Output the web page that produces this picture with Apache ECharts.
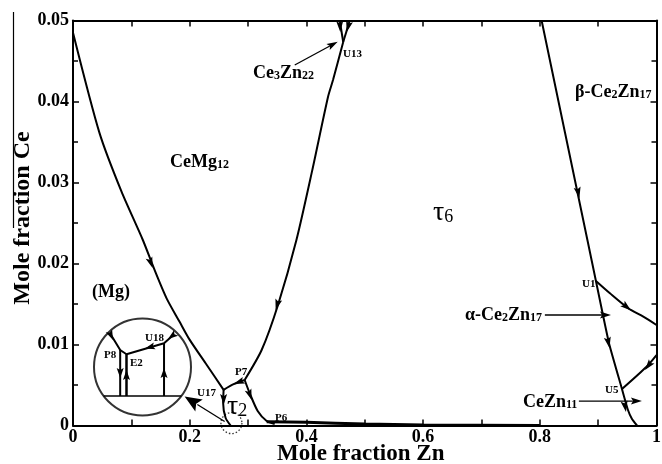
<!DOCTYPE html>
<html>
<head>
<meta charset="utf-8">
<script src="https://cdn.jsdelivr.net/npm/echarts@6/dist/echarts.min.js"></script>
<style>
  html, body { margin: 0; padding: 0; background: #fff; }
  #chart { width: 662px; height: 464px; }
</style>
</head>
<body>
<div id="chart"></div>
<script>
// Liquidus projection of the Mg-rich corner of Mg–Ce–Zn (mole fractions).
const xTicks = [0, 0.2, 0.4, 0.6, 0.8, 1];
const yTicks = [0, 0.01, 0.02, 0.03, 0.04, 0.05];

// Univariant valleys, points are [x(Zn), x(Ce)]
const valleyMgCeMg12 = [
  [0, 0.0485], [0.0455, 0.0361], [0.0830, 0.0289], [0.1197, 0.0229],
  [0.1398, 0.0192], [0.1604, 0.0157], [0.1827, 0.0128], [0.1998, 0.0106],
  [0.2290, 0.0075], [0.2581, 0.0044]
];
const valleyCeMg12Tau6 = [
  [0.2942, 0.00562], [0.3233, 0.00932], [0.3513, 0.01488], [0.3829, 0.0229],
  [0.4100, 0.0315], [0.4370, 0.04056], [0.4456, 0.04265], [0.4631, 0.04735]
];
const valleyU13Left = [[0.4631, 0.04735], [0.4571, 0.05]];
const valleyU13Right = [[0.4631, 0.04735], [0.4743, 0.05]];
const valleyBetaCe2Zn17 = [
  [0.8031, 0.05], [0.8816, 0.0229], [0.8962, 0.01784], [0.9185, 0.01019],
  [0.9408, 0.00451], [0.9511, 0.00191], [0.9580, 0.0008], [0.9666, 0]
];
const valleyU1Edge = [
  [0.8962, 0.01784], [0.9202, 0.01632], [0.9516, 0.01447], [0.9774, 0.01343], [1.0, 0.01241]
];
const valleyEdgeU5 = [[1.0, 0.0087], [0.9829, 0.00726], [0.9408, 0.00451]];
const valleyU17P7 = [[0.2581, 0.0044], [0.2753, 0.0051], [0.2942, 0.00562]];
const valleyU17Down = [[0.2581, 0.0044], [0.2573, 0.00278], [0.2616, 0.00093], [0.2702, 0]];
const valleyP7P6 = [
  [0.2942, 0.00562], [0.3027, 0.00401], [0.3165, 0.00179], [0.3319, 0.00056], [0.3456, 0.00019]
];
const valleyP6Zn = [
  [0.3319, 0.00045], [0.40, 0.0004], [0.50, 0.00018], [0.60, 0.00006], [0.80, 0]
];

// Direction arrows on the valleys: [tipX, tipY, tailX, tailY]
const valleyArrows = [
  [0.1364, 0.01944, 0.1197, 0.0229],
  [0.3473, 0.01426, 0.3829, 0.0229],
  [0.4580, 0.04858, 0.4571, 0.05],
  [0.4691, 0.04858, 0.4743, 0.05],
  [0.8679, 0.02809, 0.8031, 0.05],
  [0.9194, 0.00957, 0.8962, 0.01784],
  [0.9477, 0.00167, 0.9408, 0.00451],
  [0.9563, 0.0142, 0.9202, 0.01632],
  [0.9803, 0.00685, 1.0, 0.0087],
  [0.2753, 0.00512, 0.2942, 0.00562],
  [0.2581, 0.00253, 0.2581, 0.0044],
  [0.3062, 0.00315, 0.2942, 0.00562]
];

// Label leaders: [tipX, tipY, tailX, tailY]
const labelLeaders = [
  [0.4537, 0.04738, 0.3800, 0.0445],
  [0.9220, 0.01364, 0.8087, 0.01364],
  [0.9750, 0.00302, 0.8670, 0.00302]
];
const zoomLeader = [[0.1913, 0.00358, 0.2599, 0.00049]];
const zoomSpot = [[0.2715, 0.0003]];

// Magnified E2 corner (local 0–100 frame inside the circle)
const insetCircle = [[50, 50]];
const insetBase = [[9.9, 20.1], [90.1, 20.1]];
const insetTopLeft = [[16.5, 84.7], [27, 67.5], [33.5, 63.1], [72.2, 74.4], [81.8, 83.0]];
const insetP8 = [[27, 67.5], [27, 20.1]];
const insetE2 = [[33.5, 63.1], [33.5, 20.1]];
const insetU18 = [[72.2, 74.4], [72.2, 20.1]];
const insetArrows = [
  [19.6, 77.8, 16.5, 84.7],
  [27, 38.7, 27, 67.5],
  [33.5, 46.9, 33.5, 20.1],
  [72.2, 49.0, 72.2, 20.1],
  [52.6, 69.1, 72.2, 74.4],
  [76.3, 78.9, 81.8, 83.0]
];

const SERIF = "'Liberation Serif', 'Times New Roman', 'DejaVu Serif', serif";

function curve(data, opts) {
  return Object.assign({
    type: 'line', data: data, symbol: 'none', smooth: 0.25, silent: true,
    lineStyle: { color: '#000', width: 2 }, z: 3
  }, opts || {});
}

function heads(data, len, wid, axisIdx, withShaft, shaftWidth) {
  return {
    type: 'custom', data: data, silent: true,
    xAxisIndex: axisIdx, yAxisIndex: axisIdx, z: 5,
    encode: { x: [0, 2], y: [1, 3] },
    clip: false,
    renderItem: function (params, api) {
      const tip = api.coord([api.value(0), api.value(1)]);
      const back = api.coord([api.value(2), api.value(3)]);
      const a = Math.atan2(tip[1] - back[1], tip[0] - back[0]);
      const c = Math.cos(a), s = Math.sin(a);
      const bx = tip[0] - len * c, by = tip[1] - len * s;
      const children = [];
      if (withShaft) {
        children.push({
          type: 'line',
          shape: { x1: back[0], y1: back[1], x2: bx + 2 * c, y2: by + 2 * s },
          style: { stroke: '#000', lineWidth: shaftWidth }
        });
      }
      children.push({
        type: 'polygon',
        shape: { points: [tip, [bx - wid / 2 * s, by + wid / 2 * c], [tip[0] - len * 0.8 * c, tip[1] - len * 0.8 * s], [bx + wid / 2 * s, by - wid / 2 * c]] },
        style: { fill: '#000' }
      });
      return { type: 'group', children: children };
    }
  };
}

function label(x, y, rich, text, extra) {
  return Object.assign({
    type: 'text', x: x, y: y, z: 10,
    style: { text: text, rich: rich, fill: '#000', align: 'left', verticalAlign: 'middle',
             font: 'bold 16px ' + SERIF }
  }, extra || {});
}

const big = { a: { fontFamily: SERIF, fontWeight: 'bold', fontSize: 18, fill: '#000' },
              s: { fontFamily: SERIF, fontWeight: 'bold', fontSize: 12, fill: '#000', padding: [6, 0, 0, 0] } };
const small = { a: { fontFamily: SERIF, fontWeight: 'bold', fontSize: 11, fill: '#000' } };
const tau = { t: { fontFamily: SERIF, fontSize: 28, fill: '#000' },
              n: { fontFamily: SERIF, fontSize: 18, fill: '#000', padding: [8, 0, 0, 0] } };

const axisCommon = {
  type: 'value', min: xTicks[0], max: xTicks[xTicks.length - 1], interval: xTicks[1] - xTicks[0],
  splitLine: { show: false },
  axisLine: { show: true, onZero: false, lineStyle: { color: '#000', width: 2 } },
  axisTick: { show: true, inside: true, length: 6, lineStyle: { color: '#000', width: 1.5 } },
  minorTick: { show: true, splitNumber: 2, length: 6, lineStyle: { color: '#000', width: 1.5 } }
};
const yCommon = Object.assign({}, axisCommon, {
  min: yTicks[0], max: yTicks[yTicks.length - 1], interval: yTicks[1] - yTicks[0],
  minorTick: { show: true, splitNumber: 2, length: 5, lineStyle: { color: '#000', width: 1.5 } }
});

const chart = echarts.init(document.getElementById('chart'), null, { renderer: 'canvas' });
chart.setOption({
  backgroundColor: '#fff',
  animation: false,
  grid: [
    { left: 73, right: 5.5, top: 20.5, bottom: 38.5, containLabel: false, outerBoundsMode: 'none' },
    { left: 94, top: 318.5, width: 97, height: 97, containLabel: false, outerBoundsMode: 'none' }
  ],
  xAxis: [
    Object.assign({}, axisCommon, {
      gridIndex: 0, position: 'bottom',
      name: 'Mole fraction Zn', nameLocation: 'middle', nameGap: 17, nameMoveOverlap: false,
      nameTextStyle: { fontFamily: SERIF, fontWeight: 'bold', fontSize: 23, color: '#000', padding: [0, 8, 0, 0] },
      axisLabel: { fontFamily: SERIF, fontWeight: 'bold', fontSize: 18, color: '#000', margin: 3 }
    }),
    Object.assign({}, axisCommon, { gridIndex: 0, position: 'top', axisLabel: { show: false } }),
    { type: 'value', gridIndex: 1, min: 0, max: 100, show: false }
  ],
  yAxis: [
    Object.assign({}, yCommon, {
      gridIndex: 0, position: 'left',
      name: 'Mole fraction Ce', nameLocation: 'middle', nameGap: 38, nameMoveOverlap: false,
      nameTextStyle: { fontFamily: SERIF, fontWeight: 'bold', fontSize: 24, color: '#000', padding: [0, 0, 0, 10] },
      axisLabel: { fontFamily: SERIF, fontWeight: 'bold', fontSize: 18, color: '#000', margin: 4 }
    }),
    Object.assign({}, yCommon, { gridIndex: 0, position: 'right', axisLabel: { show: false } }),
    { type: 'value', gridIndex: 1, min: 0, max: 100, show: false }
  ],
  series: [
    curve(valleyMgCeMg12),
    curve(valleyCeMg12Tau6),
    curve(valleyU13Left, { smooth: false }),
    curve(valleyU13Right, { smooth: false }),
    curve(valleyBetaCe2Zn17, { smooth: 0.15 }),
    curve(valleyU1Edge),
    curve(valleyEdgeU5),
    curve(valleyU17P7),
    curve(valleyU17Down),
    curve(valleyP7P6),
    curve(valleyP6Zn, { lineStyle: { color: '#000', width: 3 } }),
    heads(valleyArrows, 11, 7, 0, false),
    heads(labelLeaders, 11, 7, 0, true, 1.3),
    heads(zoomLeader, 17, 14, 0, true, 1.3),
    {
      type: 'scatter', data: zoomSpot, symbol: 'circle', symbolSize: 21, silent: true, z: 4,
      itemStyle: { color: 'rgba(0,0,0,0)', borderColor: '#000', borderWidth: 1.3, borderType: [1.5, 2] }
    },
    {
      type: 'scatter', data: insetCircle, xAxisIndex: 2, yAxisIndex: 2, symbol: 'circle',
      symbolSize: 97, silent: true, z: 4,
      itemStyle: { color: 'rgba(0,0,0,0)', borderColor: '#000', borderWidth: 2 }
    },
    curve(insetBase, { xAxisIndex: 2, yAxisIndex: 2, smooth: false, lineStyle: { color: '#000', width: 1.5 } }),
    curve(insetTopLeft, { xAxisIndex: 2, yAxisIndex: 2, smooth: false }),
    curve(insetP8, { xAxisIndex: 2, yAxisIndex: 2, smooth: false }),
    curve(insetE2, { xAxisIndex: 2, yAxisIndex: 2, smooth: false, lineStyle: { color: '#000', width: 2.5 } }),
    curve(insetU18, { xAxisIndex: 2, yAxisIndex: 2, smooth: false }),
    heads(insetArrows, 10, 7, 2, false)
  ],
  graphic: [
    { type: 'line', shape: { x1: 13.5, y1: 12, x2: 13.5, y2: 228 }, style: { stroke: '#000', lineWidth: 1.2 } },
    label(170, 162, big, '{a|CeMg}{s|12}'),
    label(253, 73, big, '{a|Ce}{s|3}{a|Zn}{s|22}'),
    label(575, 92, big, '{a|β-Ce}{s|2}{a|Zn}{s|17}'),
    label(465, 315, big, '{a|α-Ce}{s|2}{a|Zn}{s|17}'),
    label(523, 402, big, '{a|CeZn}{s|11}'),
    label(92, 292, big, '{a|(Mg)}'),
    label(433, 213, tau, '{t|τ}{n|6}'),
    label(227, 407, tau, '{t|τ}{n|2}'),
    label(343, 54, small, '{a|U13}'),
    label(582, 284, small, '{a|U1}'),
    label(605, 390, small, '{a|U5}'),
    label(235, 372, small, '{a|P7}'),
    label(197, 393, small, '{a|U17}'),
    label(275, 418, small, '{a|P6}'),
    label(145, 338, small, '{a|U18}'),
    label(104, 355, small, '{a|P8}'),
    label(130, 363, small, '{a|E2}')
  ]
});
</script>
</body>
</html>
